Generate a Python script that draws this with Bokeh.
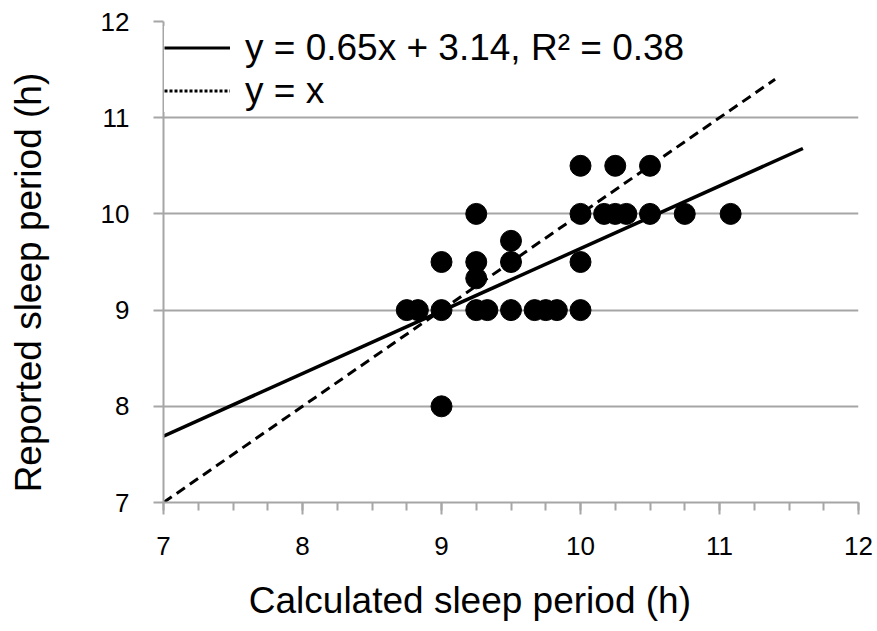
from bokeh.plotting import figure
from bokeh.models import Range1d, Legend, LegendItem, FixedTicker
from bokeh.embed import file_html
from bokeh.resources import INLINE

# Data
calc = [8.75, 8.83, 9.0, 9.25, 9.33, 9.5, 9.67, 9.75, 9.83, 10.0,
        9.0, 9.25, 9.5, 10.0,
        9.25,
        9.5,
        9.0,
        9.25, 10.0, 10.17, 10.25, 10.33, 10.5, 10.75, 11.08,
        10.0, 10.25, 10.5]
reported = [9.0, 9.0, 9.0, 9.0, 9.0, 9.0, 9.0, 9.0, 9.0, 9.0,
            9.5, 9.5, 9.5, 9.5,
            9.33,
            9.72,
            8.0,
            10.0, 10.0, 10.0, 10.0, 10.0, 10.0, 10.0, 10.0,
            10.5, 10.5, 10.5]
fit_x = [7.0, 11.6]
slope, intercept = 0.65, 3.14
fit_y = [slope * v + intercept for v in fit_x]
id_x = [7.0, 11.4]
id_y = [7.0, 11.4]
x_ticks = [7, 8, 9, 10, 11, 12]
y_ticks = [7, 8, 9, 10, 11, 12]
fit_label = "y = 0.65x + 3.14, R² = 0.38"
id_label = "y = x"
x_title = "Calculated sleep period (h)"
y_title = "Reported sleep period (h)"

GRAY = "#a6a6a6"
TICK_FONT = "Liberation Sans"
TEXT_FONT = "Liberation Sans"
NBSP = "\u00a0"

p = figure(width=877, height=631, output_backend="svg", toolbar_location=None,
           x_range=Range1d(7, 12), y_range=Range1d(7, 12),
           min_border_left=163, min_border_right=19, min_border_top=21,
           min_border_bottom=129)
p.outline_line_color = None
p.background_fill_color = "white"
p.border_fill_color = "white"

# axes
p.xaxis.ticker = FixedTicker(ticks=x_ticks, minor_ticks=[7 + 0.25 * i for i in range(21)])
p.yaxis.ticker = FixedTicker(ticks=y_ticks, minor_ticks=[])
for ax in (p.xaxis[0], p.yaxis[0]):
    ax.axis_line_color = GRAY
    ax.axis_line_width = 2
    ax.major_tick_line_color = GRAY
    ax.major_tick_line_width = 2
    ax.minor_tick_line_color = GRAY
    ax.minor_tick_line_width = 2
    ax.major_label_text_font = TICK_FONT
    ax.major_label_text_font_size = "26px"
    ax.major_label_text_color = "black"
    ax.axis_label_text_font = TEXT_FONT
    ax.axis_label_text_font_style = "normal"
    ax.axis_label_text_font_size = "37px"
    ax.axis_label_text_color = "black"
p.xaxis.major_tick_out = 12
p.xaxis.major_tick_in = 0
p.xaxis.minor_tick_out = 8
p.xaxis.minor_tick_in = 0
p.xaxis.major_label_standoff = 22
p.xaxis.axis_label_standoff = 22
# trailing non-breaking spaces shift the centred title to the reference's position
p.xaxis.axis_label = x_title + NBSP * 8
p.yaxis.major_tick_out = 10
p.yaxis.major_tick_in = 0
p.yaxis.minor_tick_out = 0
p.yaxis.major_label_standoff = 24
p.yaxis.axis_label_standoff = 49
p.yaxis.axis_label = y_title + NBSP * 4

p.xgrid.grid_line_color = None
p.ygrid.grid_line_color = GRAY
p.ygrid.grid_line_width = 2

# lines
fit_r = p.line(fit_x, fit_y, line_color="black", line_width=3.5)
id_r = p.line(id_x, id_y, line_color="black", line_width=3, line_dash="10 6")
# points
p.scatter(calc, reported, size=21, fill_color="black", line_color="black")

# legend proxies (outside the visible ranges)
fit_leg = p.line([5, 6], [5, 5], line_color="black", line_width=3)
id_leg = p.line([5, 6], [5, 5], line_color="black", line_width=3, line_dash="3 2")
legend = Legend(items=[LegendItem(label=fit_label, renderers=[fit_leg]),
                       LegendItem(label=id_label, renderers=[id_leg])],
                location=(1, 390), orientation="vertical",
                padding=4, margin=0, spacing=0,
                glyph_width=66, glyph_height=43, label_height=43,
                label_standoff=15,
                label_text_font=TEXT_FONT, label_text_font_size="37px",
                label_text_line_height=1.0,
                label_text_color="black",
                background_fill_color="white", background_fill_alpha=1.0,
                border_line_color=None)
p.add_layout(legend, "center")

html = file_html(p, INLINE)
open("out.html", "w").write(html)
